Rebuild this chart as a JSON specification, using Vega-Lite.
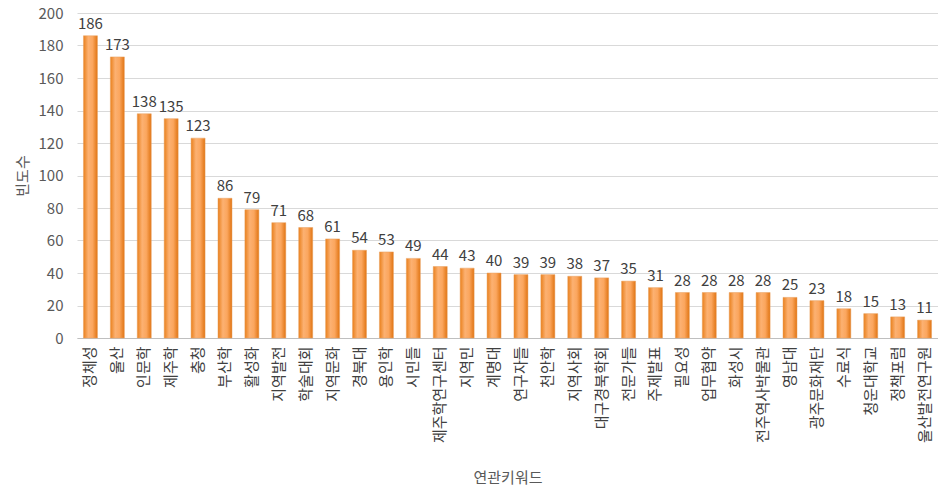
{
  "$schema": "https://vega.github.io/schema/vega-lite/v6.json",
  "width": 861,
  "height": 325,
  "autosize": "none",
  "padding": {"left": 77, "top": 13, "right": 0, "bottom": 155},
  "background": "white",
  "config": {
    "font": "Noto Sans CJK KR",
    "view": {"stroke": null}
  },
  "data": {
    "values": [
      {"k": "정체성", "v": 186},
      {"k": "울산", "v": 173},
      {"k": "인문학", "v": 138},
      {"k": "제주학", "v": 135},
      {"k": "충청", "v": 123},
      {"k": "부산학", "v": 86},
      {"k": "활성화", "v": 79},
      {"k": "지역발전", "v": 71},
      {"k": "학술대회", "v": 68},
      {"k": "지역문화", "v": 61},
      {"k": "경북대", "v": 54},
      {"k": "용인학", "v": 53},
      {"k": "시민들", "v": 49},
      {"k": "제주학연구센터", "v": 44},
      {"k": "지역민", "v": 43},
      {"k": "계명대", "v": 40},
      {"k": "연구자들", "v": 39},
      {"k": "천안학", "v": 39},
      {"k": "지역사회", "v": 38},
      {"k": "대구경북학회", "v": 37},
      {"k": "전문가들", "v": 35},
      {"k": "주제발표", "v": 31},
      {"k": "필요성", "v": 28},
      {"k": "업무협약", "v": 28},
      {"k": "화성시", "v": 28},
      {"k": "전주역사박물관", "v": 28},
      {"k": "영남대", "v": 25},
      {"k": "광주문화재단", "v": 23},
      {"k": "수료식", "v": 18},
      {"k": "청운대학교", "v": 15},
      {"k": "정책포럼", "v": 13},
      {"k": "울산발전연구원", "v": 11}
    ]
  },
  "encoding": {
    "x": {
      "field": "k",
      "type": "nominal",
      "sort": null,
      "scale": {"paddingInner": 0.48, "paddingOuter": 0.24},
      "axis": {
        "title": "연관키워드",
        "titleFontSize": 15,
        "titleFontWeight": "normal",
        "titleColor": "#595959",
        "titleY": 132,
        "labelAngle": -90,
        "labelFontSize": 15,
        "labelColor": "#404040",
        "labelPadding": 8,
        "ticks": false,
        "domainColor": "#bfbfbf",
        "domainWidth": 1
      }
    },
    "y": {
      "field": "v",
      "type": "quantitative",
      "scale": {"domain": [0, 200]},
      "axis": {
        "title": "빈도수",
        "titleFontSize": 15,
        "titleFontWeight": "normal",
        "titleColor": "#595959",
        "titlePadding": 8,
        "values": [0, 20, 40, 60, 80, 100, 120, 140, 160, 180, 200],
        "labelFontSize": 15,
        "labelColor": "#595959",
        "labelPadding": 14,
        "ticks": false,
        "domain": false,
        "gridColor": "#d9d9d9",
        "gridWidth": 1
      }
    }
  },
  "layer": [
    {
      "mark": {
        "type": "bar",
        "fill": {
          "gradient": "linear",
          "x1": 0, "y1": 0, "x2": 1, "y2": 0,
          "stops": [
            {"offset": 0, "color": "#e9801c"},
            {"offset": 0.35, "color": "#fcb172"},
            {"offset": 0.65, "color": "#fba65e"},
            {"offset": 1, "color": "#e07412"}
          ]
        },
        "stroke": "#e8a060",
        "strokeWidth": 0.5
      }
    },
    {
      "mark": {
        "type": "text",
        "dy": -12,
        "fontSize": 15,
        "color": "#404040"
      },
      "encoding": {"text": {"field": "v", "type": "quantitative"}}
    }
  ]
}
